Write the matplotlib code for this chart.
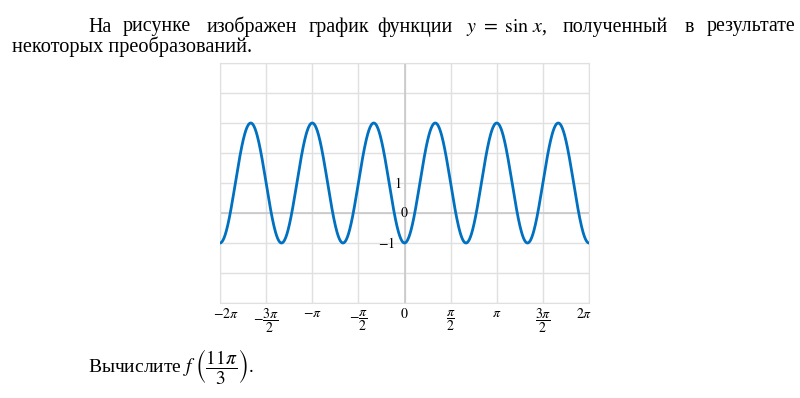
import numpy as np
import matplotlib.pyplot as plt

plt.rcParams['font.family'] = ['Liberation Serif', 'DejaVu Serif']
plt.rcParams['mathtext.fontset'] = 'stix'

# y = shift - amp*cos(freq*x)
amp = 2
freq = 3
shift = 1
x_ticks = [-2, -1.5, -1, -0.5, 0, 0.5, 1, 1.5, 2]  # multiples of pi
x_labels = [r'$-2\pi$', r'$-\dfrac{3\pi}{2}$', r'$-\pi$', r'$-\dfrac{\pi}{2}$', r'$0$',
            r'$\dfrac{\pi}{2}$', r'$\pi$', r'$\dfrac{3\pi}{2}$', r'$2\pi$']
y_ticks = [1, 0, -1]
y_labels = [r'$1$', r'$0$', r'$-1$']
words_line1 = ['На', 'рисунке', 'изображен', 'график', 'функции', r'$y\ =\ \sin\,x$,',
               'полученный', 'в', 'результате']

fig = plt.figure(figsize=(8, 3.98), dpi=100)
ax = fig.add_axes([220/800, 1 - 303/398, 369/800, 240/398])

x = np.linspace(-2*np.pi, 2*np.pi, 1000)
y = shift - amp*np.cos(freq*x)
ax.plot(x, y, color='#0070c0', lw=2, zorder=3)

ax.set_xlim(-2*np.pi, 2*np.pi)
ax.set_ylim(-3, 5)
ax.set_xticks([t*np.pi for t in x_ticks])
ax.set_yticks(range(-3, 6))
ax.grid(True, color='#e0e0e0', lw=1)
ax.tick_params(length=0, labelbottom=False, labelleft=False)
for s in ax.spines.values():
    s.set_color('#e0e0e0')
ax.axhline(0, color='#c8c8c8', lw=1.2, zorder=2)
ax.axvline(0, color='#c8c8c8', lw=1.2, zorder=2)

# x tick labels under the plot
for t, lab in zip(x_ticks, x_labels):
    dx = 0.2 if t == -2 else (-0.15 if t == 2 else 0)
    ax.text(t*np.pi + dx, -3.35 if 'frac' not in lab else -3.6, lab, ha='center',
            va='center', fontsize=10)

# y tick labels next to the y axis
for v, lab in zip(y_ticks, y_labels):
    xo = {1: -0.1, 0: 0.0, -1: -0.31}[v]
    ax.text(xo, v, lab, ha='center' if v == 0 else 'right', va='center', fontsize=10,
            zorder=4)

# text above and below the chart
word_x = [88, 123, 207, 309, 377, 466, 563, 685, 707]
for wx, w in zip(word_x, words_line1):
    fig.text(wx/800, 1 - 27/398, w, fontsize=14.4, ha='left', va='center')
fig.text(12/800, 1 - 47/398, 'некоторых преобразований.', fontsize=14.6, ha='left',
         va='center')
fig.text(88/800, 1 - 367/398, r'Вычислите $f\ \left(\dfrac{11\pi}{3}\right)$.', fontsize=14,
         ha='left', va='center')

fig.savefig('out.png', dpi=100)
